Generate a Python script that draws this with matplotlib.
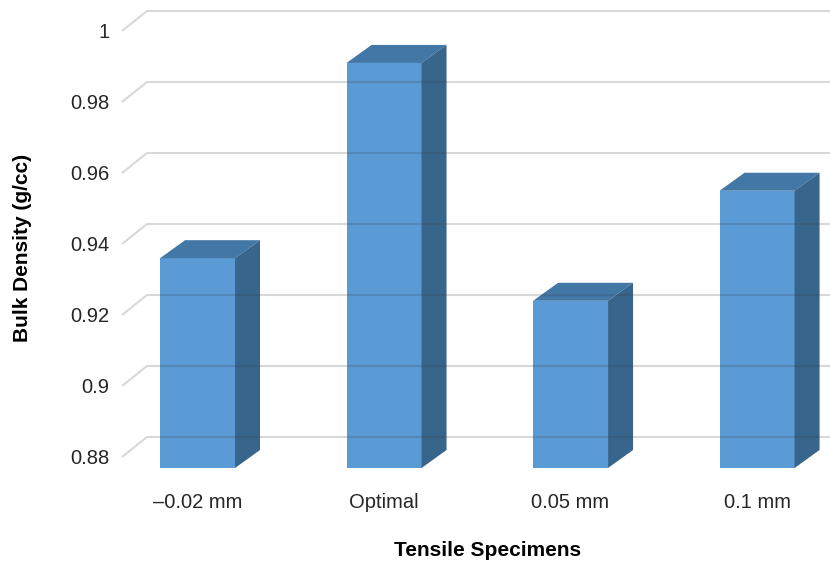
import matplotlib
matplotlib.use("Agg")
import matplotlib.pyplot as plt
from matplotlib.patches import Polygon
from matplotlib import font_manager

# Data
categories = ["\u20130.02 mm", "Optimal", "0.05 mm", "0.1 mm"]
bulk_density = [0.936, 0.991, 0.924, 0.955]
y_ticks = [0.88, 0.90, 0.92, 0.94, 0.96, 0.98, 1.00]
y_tick_labels = ["0.88", "0.9", "0.92", "0.94", "0.96", "0.98", "1"]
x_title = "Tensile Specimens"
y_title = "Bulk Density (g/cc)"

# Font choice: a condensed sans if present
names = {f.name for f in font_manager.fontManager.ttflist}
family = "Liberation Sans Narrow" if "Liberation Sans Narrow" in names else "Liberation Sans"
tick_size = 16 if family.endswith("Narrow") else 14.5
title_size = 17 if family.endswith("Narrow") else 15
plt.rcParams["font.family"] = [family, "DejaVu Sans"]

# Colours for the pseudo-3D columns
front_col = "#5b9bd5"
top_col = "#4277a6"
side_col = "#37658c"

W, H = 830, 565
fig = plt.figure(figsize=(W / 100, H / 100), dpi=100)
ax = fig.add_axes([122 / W, (H - 468) / H, 708 / W, 468 / H])

floor = 0.8769
ax.set_ylim(floor, 1.00873)
ax.set_xlim(-0.405, 3.391)

bar_w = 0.402
depth_dx = 0.134      # oblique depth offset (category units)
bar_dy = 0.00507      # depth rise of columns (value units)
grid_dy = 0.00563     # depth rise of the back wall (value units)

xs = list(range(len(categories)))

# Front faces
ax.bar(xs, [v - floor for v in bulk_density], bottom=floor, width=bar_w,
       color=front_col, linewidth=0, zorder=2)

# Top and side faces
for x, v in zip(xs, bulk_density):
    l, r = x - bar_w / 2, x + bar_w / 2
    top = Polygon([(l, v), (r, v), (r + depth_dx, v + bar_dy), (l + depth_dx, v + bar_dy)],
                  closed=True, facecolor=top_col, edgecolor="none", zorder=2, clip_on=False)
    side = Polygon([(r, floor), (r, v), (r + depth_dx, v + bar_dy), (r + depth_dx, floor + bar_dy)],
                   closed=True, facecolor=side_col, edgecolor="none", zorder=2, clip_on=False)
    ax.add_patch(top)
    ax.add_patch(side)

# Gridlines: short diagonal from the front plane, then along the back wall
x0 = ax.get_xlim()[0]
x1 = ax.get_xlim()[1]
for t in y_ticks:
    ax.plot([x0, x0 + depth_dx, x1], [t, t + grid_dy, t + grid_dy],
            color="#404040", alpha=0.2, lw=1.5, zorder=5, clip_on=False,
            solid_capstyle="butt")

ax.set_yticks(y_ticks)
ax.set_yticklabels(y_tick_labels)
ax.set_xticks(xs)
ax.set_xticklabels(categories)
ax.tick_params(axis="y", length=0, pad=9, labelsize=tick_size, labelcolor="#262626")
ax.tick_params(axis="x", length=0, pad=18, labelsize=tick_size, labelcolor="#262626")
for s in ax.spines.values():
    s.set_visible(False)
ax.set_facecolor("none")

fig.text(488 / W, 1 - 551 / H, x_title, ha="center", va="center",
         fontsize=title_size, fontweight="bold", color="black")
fig.text(22 / W, 1 - 248 / H, y_title, ha="center", va="center", rotation=90,
         fontsize=title_size, fontweight="bold", color="black")

fig.savefig("out.png", dpi=100, facecolor="white")
